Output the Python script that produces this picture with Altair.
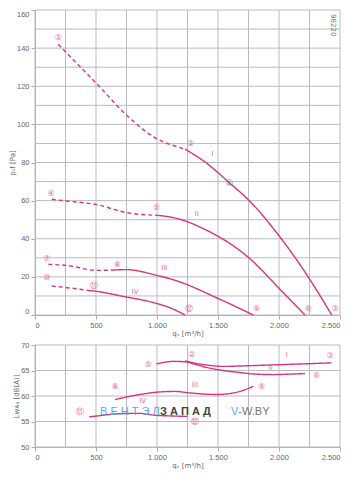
import altair as alt
import pandas as pd

PINK = "#d8347e"
LPINK = "#e46aa6"
GRID = "#bbbbbb"

# ---------- top chart: static pressure p_sf [Pa] vs q_v [m3/h] ----------
I_dash_q = [190, 350, 505, 751, 997, 1189, 1230]
I_dash_p = [142, 131.5, 121.4, 104.8, 92.5, 87.8, 87]
I_sol_q = [1230, 1393, 1593, 1762, 2008, 2240, 2432]
I_sol_p = [87, 80.3, 69.4, 59.6, 40.9, 19.9, 0]

II_dash_q = [137, 260, 505, 751, 997]
II_dash_p = [60.7, 59.8, 57.9, 53.7, 52.3]
II_sol_q = [997, 1107, 1189, 1380, 1762, 2008, 2213]
II_sol_p = [52.3, 51.4, 50.2, 45.3, 29.5, 13.5, 0]

III_dash_q = [109, 260, 505, 642]
III_dash_p = [26.6, 26.0, 23.4, 23.6]
III_sol_q = [642, 751, 997, 1107, 1189, 1503, 1790]
III_sol_p = [23.6, 23.8, 20.8, 19.0, 17.3, 8.6, 0]

IV_dash_q = [137, 369, 424]
IV_dash_p = [15.2, 13.5, 13.0]
IV_sol_q = [424, 505, 751, 900, 1000, 1107, 1230]
IV_sol_p = [13.0, 12.4, 9.4, 7.6, 6.0, 3.8, 0]

top_marks = ["①", "②", "③", "④", "⑤", "⑥", "⑦", "⑧", "⑨", "⑩", "⑪", "⑫"]
top_mark_q = [191, 1276, 2459, 131, 997, 2240, 96, 675, 1817, 96, 486, 1262]
top_mark_p = [145.3, 89.5, 3.3, 63.6, 56, 3.3, 29.5, 26.4, 3.3, 19.4, 15.2, 3.3]

roman = ["I", "II", "III", "IV"]
top_roman_q = [1456, 1325, 1060, 820]
top_roman_p = [84.6, 53, 24.7, 12]

op_mark = ["⑥"]
op_q = [1593]
op_p = [69.4]

# ---------- bottom chart: sound power L_WA5 [dB(A)] ----------
bI_q = [1230, 1300, 1400, 1544, 1700, 1953, 2200, 2432]
bI_l = [66.9, 66.5, 66.1, 65.8, 65.9, 66.1, 66.3, 66.5]
bII_q = [997, 1060, 1134, 1230, 1300, 1407, 1544, 1680, 1800, 1953, 2100, 2213]
bII_l = [66.3, 66.6, 66.8, 66.7, 66.3, 65.6, 65.0, 64.6, 64.3, 64.2, 64.3, 64.4]
bIII_q = [656, 861, 1025, 1150, 1270, 1489, 1600, 1680, 1790]
bIII_l = [59.3, 60.3, 60.8, 60.9, 60.6, 60.3, 60.5, 60.9, 61.9]
bIV_q = [445, 550, 670, 850, 997, 1100, 1250]
bIV_l = [55.9, 56.2, 56.5, 56.6, 56.2, 56.1, 56.0]

bot_marks = ["②", "③", "⑤", "⑥", "⑧", "⑨", "⑪", "⑫"]
bot_mark_q = [1284, 2418, 929, 2309, 656, 1858, 369, 1311]
bot_mark_l = [68.1, 67.8, 66.1, 63.9, 61.7, 61.7, 56.8, 54.9]
bot_roman_q = [2063, 1932, 1311, 883]
bot_roman_l = [68.1, 65.4, 62.1, 59.0]

code_txt = ["98220"]
code_q = [2445]
code_p = [152]

X_TICKS = list(range(0, 2501, 250))
X_RANGE = [0, 2500]
TOP_Y_TICKS = list(range(0, 161, 10))
TOP_Y_RANGE = [0, 160]
BOT_Y_TICKS = [50, 55, 60, 65, 70]
BOT_Y_RANGE = [50, 70]

# watermark
wm_blue = ["В Е Н Т Э Л"]
wm_gray = ["З А П А Д"]
wm_v = ["V"]
wm_site = ["-W.BY"]


def segs(items):
    rows = []
    for sid, (q, v, style) in enumerate(items):
        for i, (a, b) in enumerate(zip(q, v)):
            rows.append({"seg": sid, "q": a, "v": b, "style": style, "o": i})
    return pd.DataFrame(rows)


def grid_df(yticks, yrange):
    rows = []
    for i, t in enumerate(X_TICKS):
        for j, y in enumerate(yrange):
            rows.append({"g": f"x{i}", "q": t, "v": y, "o": j})
    for i, t in enumerate(yticks):
        for j, x in enumerate(X_RANGE):
            rows.append({"g": f"y{i}", "q": x, "v": t, "o": j})
    return pd.DataFrame(rows)


def pts(q, v, t):
    return pd.DataFrame({"q": q, "v": v, "t": t})


top_df = segs([
    (I_dash_q, I_dash_p, "dash"), (I_sol_q, I_sol_p, "solid"),
    (II_dash_q, II_dash_p, "dash"), (II_sol_q, II_sol_p, "solid"),
    (III_dash_q, III_dash_p, "dash"), (III_sol_q, III_sol_p, "solid"),
    (IV_dash_q, IV_dash_p, "dash"), (IV_sol_q, IV_sol_p, "solid"),
])
bot_df = segs([
    (bI_q, bI_l, "solid"), (bII_q, bII_l, "solid"),
    (bIII_q, bIII_l, "solid"), (bIV_q, bIV_l, "solid"),
])

xlab = "datum.value % 500 === 0 ? replace(format(datum.value, ','), ',', '.') : ''"
x_axis = alt.Axis(values=X_TICKS, labelExpr=xlab, title="qᵥ [m³/h]", grid=False,
                  tickOpacity={"condition": {"test": "datum.value % 500 === 0", "value": 1}, "value": 0})
x_scale = alt.Scale(domain=X_RANGE, nice=False)

ytop_axis = alt.Axis(values=TOP_Y_TICKS, title="pₛf [Pa]", labelFlush=True, grid=False,
                     labelExpr="datum.value % 20 === 0 ? datum.label : ''",
                     tickOpacity={"condition": {"test": "datum.value % 20 === 0", "value": 1}, "value": 0})
ytop_scale = alt.Scale(domain=TOP_Y_RANGE, nice=False)

ybot_axis = alt.Axis(values=BOT_Y_TICKS, title="Lᴡᴀ₅ [dB(A)]", grid=False)
ybot_scale = alt.Scale(domain=BOT_Y_RANGE, nice=False)

dash_scale = alt.Scale(domain=["dash", "solid"], range=[[4, 3], [1, 0]])


def enc_xy(yaxis, yscale):
    return dict(x=alt.X("q:Q", scale=x_scale, axis=x_axis),
                y=alt.Y("v:Q", scale=yscale, axis=yaxis))


def grid_layer(yticks, yrange, yaxis, yscale):
    return alt.Chart(grid_df(yticks, yrange)).mark_line(
        color=GRID, strokeWidth=1).encode(
        detail="g:N", order="o:Q", **enc_xy(yaxis, yscale))


def line_layer(df, yaxis, yscale):
    return alt.Chart(df).mark_line(color=PINK, strokeWidth=1.4, interpolate="monotone").encode(
        detail="seg:N",
        order="o:Q",
        strokeDash=alt.StrokeDash("style:N", scale=dash_scale, legend=None),
        **enc_xy(yaxis, yscale),
    )


def text_layer(df, yaxis, yscale, color, size, font="DejaVu Sans", **kw):
    return alt.Chart(df).mark_text(color=color, fontSize=size, font=font, **kw).encode(
        text="t:N", **enc_xy(yaxis, yscale))


top = alt.layer(
    grid_layer(TOP_Y_TICKS, TOP_Y_RANGE, ytop_axis, ytop_scale),
    line_layer(top_df, ytop_axis, ytop_scale),
    text_layer(pts(top_mark_q, top_mark_p, top_marks), ytop_axis, ytop_scale, LPINK, 8),
    text_layer(pts(top_roman_q, top_roman_p, roman), ytop_axis, ytop_scale, LPINK, 7),
    text_layer(pts(op_q, op_p, op_mark), ytop_axis, ytop_scale, "#777", 9),
    text_layer(pts(code_q, code_p, code_txt), ytop_axis, ytop_scale, "#777", 7, angle=90),
).properties(width=305, height=305)

bottom = alt.layer(
    grid_layer(BOT_Y_TICKS, BOT_Y_RANGE, ybot_axis, ybot_scale),
    line_layer(bot_df, ybot_axis, ybot_scale),
    text_layer(pts([533], [56.9], wm_blue), ybot_axis, ybot_scale, "#5aa9e6", 11,
               font="Liberation Sans", align="left"),
    text_layer(pts([1025], [56.9], wm_gray), ybot_axis, ybot_scale, "#444", 11,
               font="Liberation Sans", align="left", fontWeight="bold"),
    text_layer(pts([1607], [56.9], wm_v), ybot_axis, ybot_scale, "#5aa9e6", 11,
               font="Liberation Sans", align="left"),
    text_layer(pts([1667], [56.9], wm_site), ybot_axis, ybot_scale, "#777", 11,
               font="Liberation Sans", align="left"),
    text_layer(pts(bot_mark_q, bot_mark_l, bot_marks), ybot_axis, ybot_scale, LPINK, 8),
    text_layer(pts(bot_roman_q, bot_roman_l, roman), ybot_axis, ybot_scale, LPINK, 7),
).properties(width=305, height=102)

chart = alt.vconcat(top, bottom, spacing=4).properties(
    padding={"left": 0, "top": 0, "right": 4, "bottom": 0}
).configure_axis(
    labelFont="Liberation Sans", labelFontSize=7.5, labelColor="#666",
    titleFont="DejaVu Sans", titleFontSize=7, titleColor="#666", titleFontWeight="normal",
    tickSize=4, tickColor="#aaa", domainColor="#aaa",
    labelPadding=2, titlePadding=1,
).configure_view(strokeWidth=0)

chart.save("out.html", embed_options={"renderer": "svg", "actions": False})
